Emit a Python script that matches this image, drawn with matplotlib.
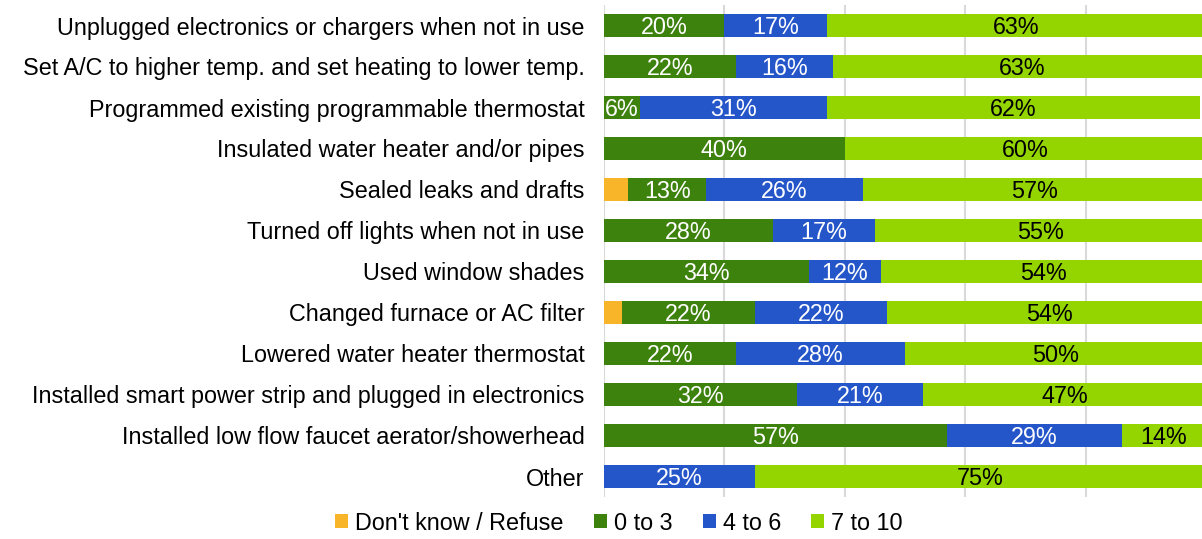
import numpy as np
import matplotlib.pyplot as plt

plt.rcParams['font.family'] = ['Liberation Sans', 'DejaVu Sans']

categories = [
    "Unplugged electronics or chargers when not in use",
    "Set A/C to higher temp. and set heating to lower temp.",
    "Programmed existing programmable thermostat",
    "Insulated water heater and/or pipes",
    "Sealed leaks and drafts",
    "Turned off lights when not in use",
    "Used window shades",
    "Changed furnace or AC filter",
    "Lowered water heater thermostat",
    "Installed smart power strip and plugged in electronics",
    "Installed low flow faucet aerator/showerhead",
    "Other",
]
dont_know = [0, 0, 0, 0, 4, 0, 0, 3, 0, 0, 0, 0]
low = [20, 22, 6, 40, 13, 28, 34, 22, 22, 32, 57, 0]
mid = [17, 16, 31, 0, 26, 17, 12, 22, 28, 21, 29, 25]
high = [63, 63, 62, 60, 57, 55, 54, 54, 50, 47, 14, 75]

series = [
    ("Don't know / Refuse", dont_know, "#F9B52A", None),
    ("0 to 3", low, "#3E820E", "white"),
    ("4 to 6", mid, "#2556C9", "white"),
    ("7 to 10", high, "#94D500", "black"),
]

fs = 16.8

fig = plt.figure(figsize=(12.02, 5.39), dpi=100)
ax = fig.add_axes([604 / 1202, 1 - 497 / 539, 602 / 1202, 492 / 539])

y = np.arange(len(categories))
left = np.zeros(len(categories))
for name, vals, color, txt in series:
    vals = np.array(vals, dtype=float)
    ax.barh(y, vals, left=left, height=0.56, color=color, label=name, zorder=3)
    if txt:
        for yi, l, v in zip(y, left, vals):
            if v > 0:
                ax.text(l + v / 2, yi + 0.05, f"{int(v)}%", ha="center", va="center",
                        color=txt, fontsize=fs, zorder=4)
    left += vals

ax.set_xlim(0, 100)
ax.set_ylim(len(categories) - 0.5, -0.5)
ax.set_yticks(y)
ax.set_yticklabels(categories, fontsize=fs)
ax.set_xticks([0, 20, 40, 60, 80, 100])
ax.tick_params(axis="x", labelbottom=False, length=0)
ax.tick_params(axis="y", length=0, pad=14)
ax.grid(axis="x", color="#d9d9d9", linewidth=1.5, zorder=0)
for s in ax.spines.values():
    s.set_visible(False)

fig.legend(loc="center", bbox_to_anchor=(0.515, 1 - 523 / 539), ncol=4, frameon=False,
           fontsize=fs, handlelength=0.55, handleheight=0.55, handletextpad=0.3,
           columnspacing=1.3)

fig.savefig("out.png", dpi=100)
